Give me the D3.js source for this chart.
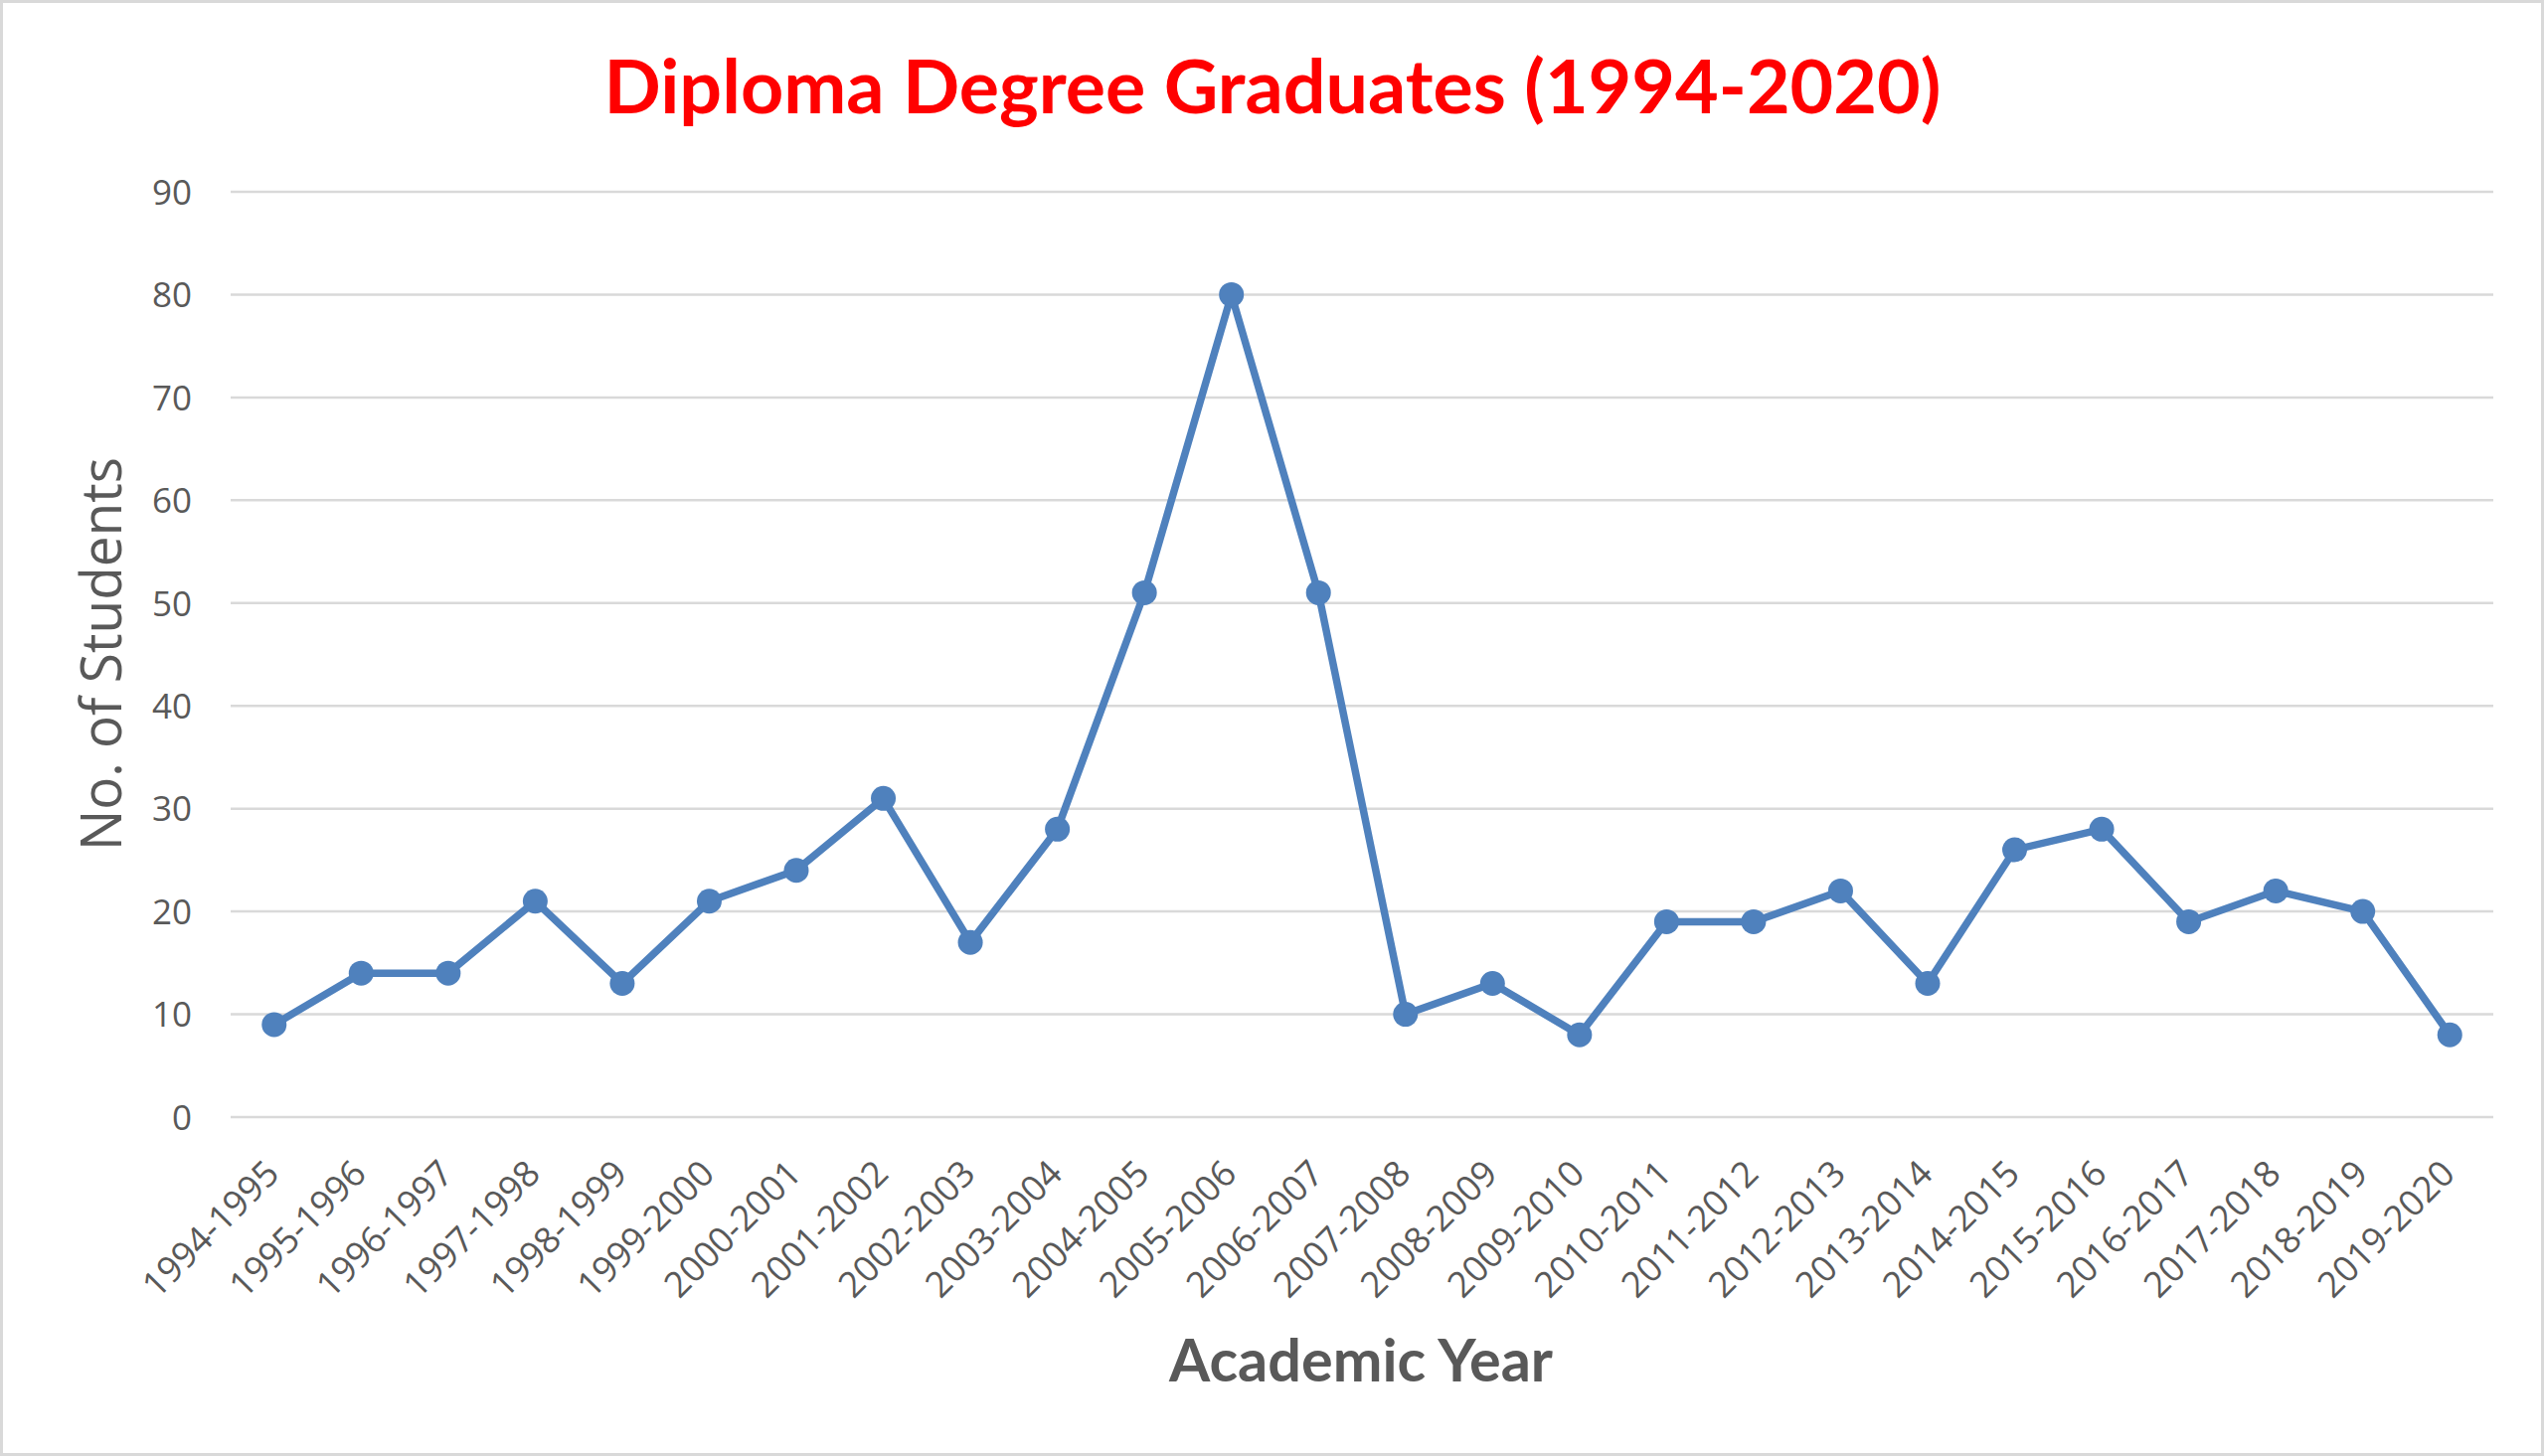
<!DOCTYPE html>
<html>
<head>
<meta charset="utf-8">
<script src="https://cdn.jsdelivr.net/npm/d3@7"></script>
<style>
  html, body { margin: 0; padding: 0; background: #fff; }
  svg { display: block; }
</style>
</head>
<body>
<svg id="chart" width="2559" height="1465"></svg>
<script>
const categories = ["1994-1995","1995-1996","1996-1997","1997-1998","1998-1999","1999-2000","2000-2001","2001-2002","2002-2003","2003-2004","2004-2005","2005-2006","2006-2007","2007-2008","2008-2009","2009-2010","2010-2011","2011-2012","2012-2013","2013-2014","2014-2015","2015-2016","2016-2017","2017-2018","2018-2019","2019-2020"];
const values = [9,14,14,21,13,21,24,31,17,28,51,80,51,10,13,8,19,19,22,13,26,28,19,22,20,8];
const yTicks = [0,10,20,30,40,50,60,70,80,90];
const titleText = "Diploma Degree Graduates (1994-2020)";
const xTitleText = "Academic Year";
const yTitleText = "No. of Students";

(function () {
const W = 2559, H = 1465;
const svg = d3.select("#chart");
const plotLeft = 232, plotRight = 2508, plotTop = 193, plotBottom = 1124;

// outer border
svg.append("rect").attr("x", 1.5).attr("y", 1.5).attr("width", W - 3).attr("height", H - 3)
  .attr("fill", "#fff").attr("stroke", "#d9d9d9").attr("stroke-width", 3);

const x = d3.scaleBand().domain(categories).range([plotLeft, plotRight]).paddingInner(0).paddingOuter(0);
const y = d3.scaleLinear().domain([0, 90]).range([plotBottom, plotTop]);

// gridlines
svg.append("g").selectAll("line").data(yTicks).join("line")
  .attr("x1", plotLeft).attr("x2", plotRight)
  .attr("y1", d => y(d)).attr("y2", d => y(d))
  .attr("stroke", "#d9d9d9").attr("stroke-width", 2.5);

// y axis labels
const yAxis = d3.axisLeft(y).tickValues(yTicks).tickSize(0).tickPadding(0);
const gy = svg.append("g").attr("transform", `translate(${plotLeft - 39},0)`).call(yAxis);
gy.select(".domain").remove();
gy.selectAll("text")
  .attr("font-family", "'Open Sans', sans-serif").attr("font-size", 35)
  .attr("fill", "#595959").attr("dy", "0.35em");

// x axis labels
const xAxis = d3.axisBottom(x).tickSize(0).tickPadding(0);
const gx = svg.append("g").attr("transform", `translate(0,${plotBottom})`).call(xAxis);
gx.select(".domain").remove();
gx.selectAll("text")
  .attr("font-family", "'Open Sans', sans-serif").attr("font-size", 36)
  .attr("fill", "#595959")
  .attr("text-anchor", "end")
  .attr("x", 0).attr("y", 0).attr("dy", 0)
  .attr("transform", "translate(7,59) rotate(-45)");

// line
const cx = d => x(d) + x.bandwidth() / 2;
const line = d3.line().x((d, i) => cx(categories[i])).y(d => y(d));
svg.append("path").datum(values)
  .attr("d", line).attr("fill", "none")
  .attr("stroke", "#4f81bd").attr("stroke-width", 7.5)
  .attr("stroke-linejoin", "round").attr("stroke-linecap", "round");

svg.append("g").selectAll("circle").data(values).join("circle")
  .attr("cx", (d, i) => cx(categories[i])).attr("cy", d => y(d))
  .attr("r", 12.5).attr("fill", "#4f81bd");

// title
svg.append("text").attr("x", 1280).attr("y", 114)
  .attr("text-anchor", "middle")
  .attr("font-family", "Lato, 'Open Sans', sans-serif").attr("font-weight", "bold")
  .attr("font-size", 74).attr("fill", "#ff0000")
  .attr("textLength", 1345).attr("lengthAdjust", "spacingAndGlyphs")
  .text(titleText);

// x axis title
svg.append("text").attr("x", 1369).attr("y", 1390)
  .attr("text-anchor", "middle")
  .attr("font-family", "Lato, 'Open Sans', sans-serif").attr("font-weight", "bold")
  .attr("font-size", 59).attr("fill", "#595959")
  .attr("textLength", 386).attr("lengthAdjust", "spacingAndGlyphs")
  .text(xTitleText);

// y axis title
svg.append("text")
  .attr("transform", "translate(122,658) rotate(-90)")
  .attr("text-anchor", "middle")
  .attr("font-family", "'Open Sans', sans-serif")
  .attr("font-size", 57).attr("fill", "#595959")
  .attr("textLength", 396).attr("lengthAdjust", "spacingAndGlyphs")
  .text(yTitleText);
})();
</script>
</body>
</html>
